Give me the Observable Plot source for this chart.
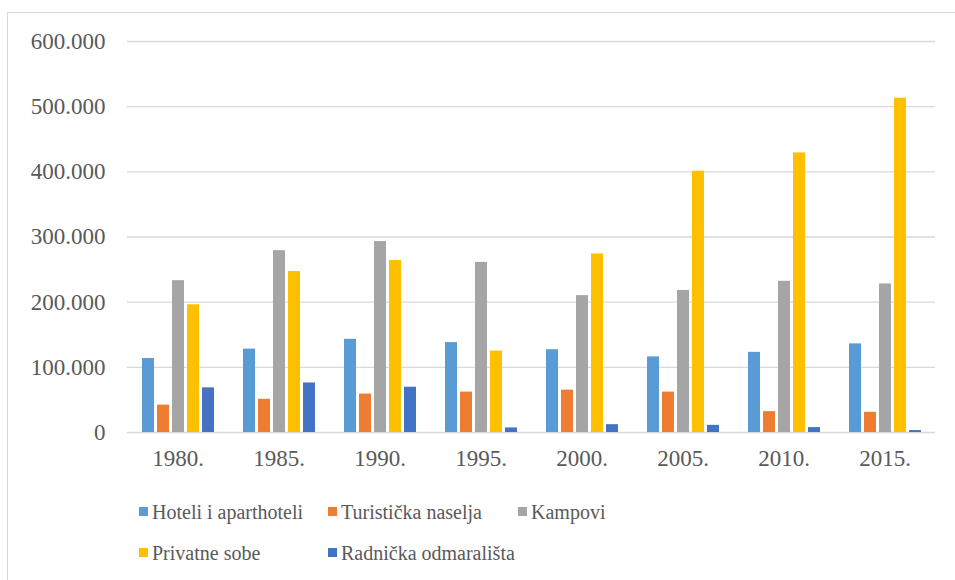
<!DOCTYPE html>
<html>
<head>
<meta charset="utf-8">
<script src="https://cdn.jsdelivr.net/npm/d3@7"></script>
<script src="https://cdn.jsdelivr.net/npm/@observablehq/plot@0.6"></script>
<style>
  html, body { margin: 0; padding: 0; background: #fff; }
</style>
</head>
<body>
<div id="page" style="position:relative;width:955px;height:580px;overflow:hidden;font-family:'Liberation Serif';">
  <div id="frame" style="position:absolute;left:7px;top:12px;width:1000px;height:1000px;border:1px solid #d9d9d9;box-sizing:border-box;"></div>
  <div id="chart" style="position:absolute;left:0;top:0;"></div>
  <div id="legend" style="position:absolute;left:0;top:490px;width:955px;height:90px;"></div>
</div>
<script>
const years = ["1980.", "1985.", "1990.", "1995.", "2000.", "2005.", "2010.", "2015."];
const seriesNames = ["Hoteli i aparthoteli", "Turistička naselja", "Kampovi", "Privatne sobe", "Radnička odmarališta"];
const seriesColors = ["#5b9bd5", "#ed7d31", "#a5a5a5", "#ffc000", "#4472c4"];
const hoteli   = [113500, 128000, 143000, 138000, 127000, 116000, 123000, 136000];
const naselja  = [42000, 51000, 59000, 62000, 65000, 62000, 32000, 31000];
const kampovi  = [233000, 279000, 293000, 261000, 210000, 218000, 232000, 228000];
const privatne = [196000, 247000, 264000, 125000, 274000, 401000, 429000, 513000];
const radnicka = [68500, 76000, 69500, 7000, 12000, 11000, 7500, 3000];
const yTicks = [0, 100000, 200000, 300000, 400000, 500000, 600000];

const seriesValues = [hoteli, naselja, kampovi, privatne, radnicka];
const data = [];
years.forEach((y, i) => {
  seriesNames.forEach((s, j) => data.push({ year: y, series: s, value: seriesValues[j][i] }));
});

const fmt = d => d === 0 ? "0" : d3.format(",")(d).replace(/,/g, ".");

const chart = Plot.plot({
  width: 955,
  height: 490,
  marginLeft: 124,
  marginRight: 17,
  marginTop: 41,
  marginBottom: 58,
  style: { fontFamily: "Liberation Serif", fontSize: "23px", color: "#595959", background: "transparent" },
  fx: { domain: years, padding: 0, label: null, axis: "bottom", tickSize: 0, tickPadding: 17 },
  x: { domain: seriesNames, paddingInner: 0.23, paddingOuter: 0.88, axis: null },
  y: { domain: [0, 600000], ticks: yTicks, tickFormat: fmt, label: null, tickSize: 0, tickPadding: 22 },
  color: { domain: seriesNames, range: seriesColors },
  marks: [
    Plot.ruleY(yTicks, { stroke: "#d9d9d9", strokeWidth: 1.4 }),
    Plot.barY(data, { fx: "year", x: "series", y: "value", fill: "series" })
  ]
});
chart.querySelectorAll("text").forEach(t => {
  t.setAttribute("fill", "#595959");
  t.setAttribute("font-family", "Liberation Serif");
  t.setAttribute("font-size", "23");
  t.style.setProperty("font-family", "'Liberation Serif'", "important");
  t.style.setProperty("font-size", "23px", "important");
});
document.getElementById("chart").appendChild(chart);

// legend
const legend = document.getElementById("legend");
const cols = [139, 328, 518];
const rows = [22, 63];
const layout = [[0, 0], [0, 1], [0, 2], [1, 0], [1, 1]];
seriesNames.forEach((name, i) => {
  const [r, c] = layout[i];
  const sw = document.createElement("div");
  sw.setAttribute("style", `position:absolute;left:${cols[c]}px;top:${rows[r] - 5}px;width:9px;height:9px;background:${seriesColors[i]};`);
  const label = document.createElement("div");
  label.setAttribute("style", `position:absolute;left:${cols[c] + 13}px;top:${rows[r] - 10}px;height:20px;line-height:20px;white-space:nowrap;color:#595959;font-family:'Liberation Serif';font-size:20px;`);
  label.textContent = name;
  legend.appendChild(sw);
  legend.appendChild(label);
});
</script>
</body>
</html>
